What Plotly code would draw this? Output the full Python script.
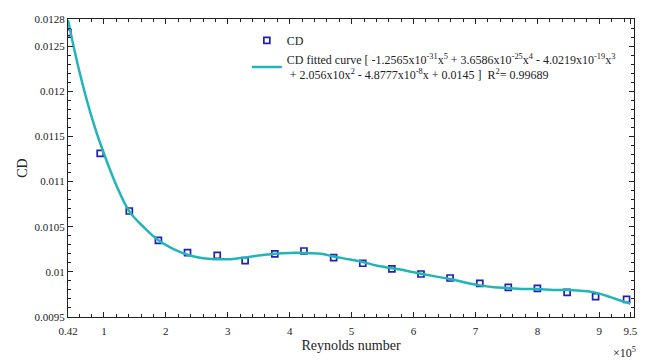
import plotly.graph_objects as go

# Reynolds number (x 1e5) and CD data points
re_points = [0.42, 0.94, 1.41, 1.88, 2.35, 2.83, 3.28, 3.76, 4.23, 4.71,
             5.18, 5.65, 6.12, 6.59, 7.07, 7.53, 8.00, 8.48, 8.94, 9.44]
cd_points = [0.01265, 0.011313, 0.010674, 0.010349, 0.010212, 0.010183, 0.010124,
             0.010198, 0.010231, 0.010157, 0.010095, 0.010032, 0.009976, 0.009932,
             0.009873, 0.009829, 0.009818, 0.009773, 0.009725, 0.009696]

# fitted curve
re_curve = [0.42, 0.6, 0.8, 1.0, 1.2, 1.41, 1.65, 1.88, 2.1, 2.35, 2.6, 2.83, 3.05,
            3.28, 3.5, 3.76, 4.0, 4.23, 4.5, 4.71, 4.95, 5.18, 5.4, 5.65, 5.9, 6.12,
            6.35, 6.59, 6.85, 7.07, 7.3, 7.53, 7.75, 8.0, 8.25, 8.48, 8.7, 8.94,
            9.18, 9.35, 9.5]
cd_curve = [0.01279, 0.01223, 0.01172, 0.01131, 0.01096, 0.01067, 0.01049, 0.01035,
            0.01026, 0.01019, 0.01015, 0.01014, 0.01014, 0.01016, 0.01018, 0.01020,
            0.01021, 0.01021, 0.01020, 0.01017, 0.01014, 0.01011, 0.01007, 0.01004,
            0.01001, 0.00998, 0.00995, 0.00992, 0.00988, 0.00985, 0.00983, 0.00982,
            0.00981, 0.00981, 0.00980, 0.00980, 0.00979, 0.00977, 0.00972, 0.00968,
            0.00965]

x_tickvals = [0.42, 1, 2, 3, 4, 5, 6, 7, 8, 9, 9.5]
x_ticktext = ["0.42", "1", "2", "3", "4", "5", "6", "7", "8", "9", "9.5"]
y_tickvals = [0.0095, 0.01, 0.0105, 0.011, 0.0115, 0.012, 0.0125, 0.0128]
y_ticktext = ["0.0095", "0.01", "0.0105", "0.011", "0.0115", "0.012", "0.0125", "0.0128"]

FONT = "Liberation Serif"
fit_name = ("CD fitted curve [ -1.2565x10<sup>-31</sup>x<sup>5</sup> + 3.6586x10<sup>-25</sup>x<sup>4</sup>"
            " - 4.0219x10<sup>-19</sup>x<sup>3</sup><br>&nbsp;+ 2.056x10x<sup>2</sup> - 4.8777x10<sup>-8</sup>x"
            " + 0.0145 ]  R<sup>2</sup>= 0.99689")

fig = go.Figure()
fig.add_trace(go.Scatter(
    x=re_points, y=cd_points, mode="markers", name="CD",
    marker=dict(symbol="square-open", size=6, color="#2020b4", line=dict(width=1.7)),
))
fig.add_trace(go.Scatter(
    x=re_curve, y=cd_curve, mode="lines", name=fit_name,
    line=dict(color="#22b5b8", width=2.5, shape="spline", smoothing=1.0),
))

axis_common = dict(
    showline=True, linecolor="#222", linewidth=1.2, mirror="ticks",
    ticks="inside", ticklen=5, tickcolor="#222", tickwidth=1,
    showgrid=False, zeroline=False, automargin=False,
    tickfont=dict(family=FONT, size=11, color="#222"),
)

fig.update_xaxes(
    range=[0.42, 9.56], tickmode="array", tickvals=x_tickvals, ticktext=x_ticktext,
    minor=dict(ticks="inside", dtick=0.2, tick0=0, ticklen=3, tickcolor="#222"),
    ticklabelstandoff=4,
    title=dict(text="Reynolds number", font=dict(family=FONT, size=14, color="#222"), standoff=3),
    **axis_common,
)
fig.update_yaxes(
    range=[0.0095, 0.0128], tickmode="array", tickvals=y_tickvals, ticktext=y_ticktext,
    minor=dict(ticks="inside", dtick=0.0001, tick0=0, ticklen=3, tickcolor="#222"),
    title=dict(text="CD", font=dict(family=FONT, size=14, color="#222"), standoff=3),
    **axis_common,
)

fig.add_annotation(
    text="\u00d710<sup>5</sup>", xref="paper", yref="paper", x=0.983, y=-0.12,
    xanchor="center", yanchor="middle", showarrow=False,
    font=dict(family=FONT, size=12, color="#222"),
)

fig.update_layout(
    width=650, height=360,
    margin=dict(l=68, r=16, t=19, b=43),
    plot_bgcolor="white", paper_bgcolor="white",
    showlegend=True,
    legend=dict(
        x=0.316, y=0.977, xanchor="left", yanchor="top",
        bgcolor="rgba(0,0,0,0)", font=dict(family=FONT, size=12, color="#222"),
        itemwidth=30, tracegroupgap=0,
    ),
)

fig.write_html("out.html", config={"displayModeBar": False},
               post_script="document.body.style.margin='0';")
